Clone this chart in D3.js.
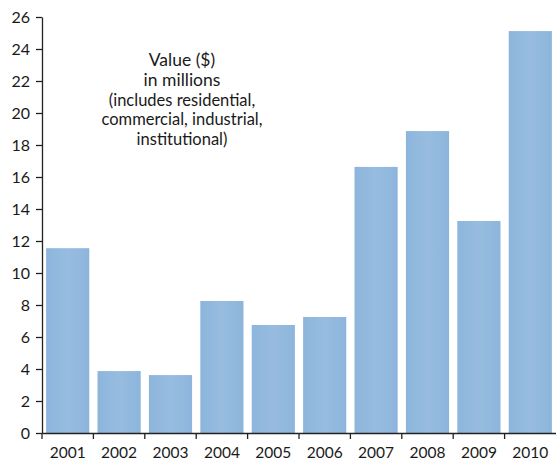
<!DOCTYPE html>
<html>
<head>
<meta charset="utf-8">
<script src="https://cdn.jsdelivr.net/npm/d3@7"></script>
<style>
  html, body { margin: 0; padding: 0; background: #fff; }
  svg { display: block; }
  text { font-family: Lato, "Open Sans", sans-serif; fill: #1a1a1a; }
</style>
</head>
<body>
<svg id="chart" width="556" height="460"></svg>
<script>
// Construction value by year, in millions of dollars
const years = ["2001", "2002", "2003", "2004", "2005", "2006", "2007", "2008", "2009", "2010"];
const values = [11.55, 3.87, 3.62, 8.25, 6.75, 7.25, 16.63, 18.87, 13.25, 25.12];
const yTicks = [0, 2, 4, 6, 8, 10, 12, 14, 16, 18, 20, 22, 24, 26];
const noteLines = ["Value ($)", "in millions", "(includes residential,", "commercial, industrial,", "institutional)"];

const svg = d3.select("#chart");
const plotLeft = 42, plotRight = 556, plotTop = 17, plotBottom = 433;

const x = d3.scaleBand().domain(years).range([plotLeft, plotRight]).paddingInner(0.16).paddingOuter(0.08);
const y = d3.scaleLinear().domain([0, 26]).range([plotBottom, plotTop]);

// soft horizontal shading on the bars
const grad = svg.append("defs").append("linearGradient").attr("id", "barFill")
  .attr("x1", "0%").attr("x2", "100%").attr("y1", "0%").attr("y2", "0%");
grad.append("stop").attr("offset", "0%").attr("stop-color", "#8db5db");
grad.append("stop").attr("offset", "50%").attr("stop-color", "#97bce0");
grad.append("stop").attr("offset", "100%").attr("stop-color", "#8db5db");

svg.append("g").selectAll("rect").data(values).join("rect")
  .attr("x", (d, i) => x(years[i]))
  .attr("y", d => y(d))
  .attr("width", x.bandwidth())
  .attr("height", d => y(0) - y(d))
  .attr("fill", "url(#barFill)");

// y axis
const yAxis = svg.append("g").attr("transform", `translate(${plotLeft},0)`)
  .call(d3.axisLeft(y).tickValues(yTicks).tickSize(6).tickPadding(6).tickSizeOuter(0));
yAxis.select(".domain").attr("stroke", "#222").attr("stroke-width", 1.3);
yAxis.selectAll(".tick line").attr("stroke", "#222").attr("stroke-width", 1.3);
yAxis.selectAll("text").attr("font-size", 16).attr("font-family", "Lato, sans-serif").attr("fill", "#1a1a1a");

// x axis: labels centred in each band, ticks at band boundaries
const xAxis = svg.append("g").attr("transform", `translate(0,${plotBottom})`)
  .call(d3.axisBottom(x).tickSize(0).tickPadding(13.5).tickSizeOuter(0));
xAxis.select(".domain").attr("stroke", "#222").attr("stroke-width", 1.3);
xAxis.selectAll("text").attr("font-size", 15.5).attr("font-family", "Lato, sans-serif").attr("fill", "#1a1a1a");
const half = x.step() * x.paddingInner() / 2;
xAxis.selectAll(".boundary").data(years).join("line")
  .attr("class", "boundary")
  .attr("x1", (d, i) => i === 0 ? plotLeft : x(d) - half)
  .attr("x2", (d, i) => i === 0 ? plotLeft : x(d) - half)
  .attr("y1", 0).attr("y2", 6)
  .attr("stroke", "#222").attr("stroke-width", 1.3);

// annotation
const note = svg.append("text").attr("text-anchor", "middle");
const noteY = [66, 86, 106, 125, 145];
const noteSize = [17.5, 17.5, 16.5, 16.5, 16.5];
noteLines.forEach((t, i) => {
  note.append("tspan").attr("x", 182).attr("y", noteY[i]).attr("font-size", noteSize[i]).text(t);
});
</script>
</body>
</html>
